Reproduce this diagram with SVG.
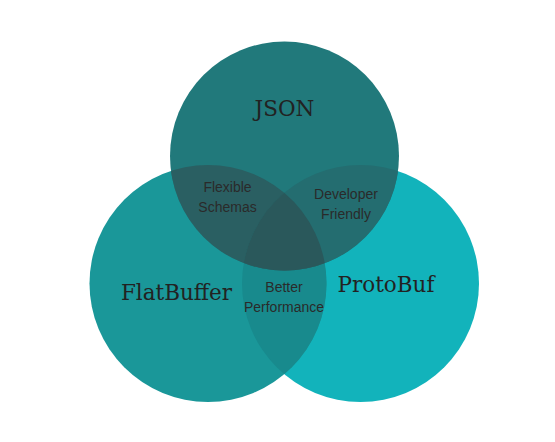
<svg xmlns="http://www.w3.org/2000/svg" width="555" height="442" viewBox="0 0 555 442">
  <style>
    .title { font-family: "DejaVu Serif", "Liberation Serif", serif; font-size: 21.5px; fill: #222222; text-anchor: middle; }
    .lbl { font-family: "Liberation Sans", Arial, sans-serif; font-size: 14px; fill: #2a2a2a; text-anchor: middle; }
  </style>
  <defs>
    <clipPath id="clipPB"><circle cx="360.5" cy="283.5" r="118.5"/></clipPath>
    <clipPath id="clipFB"><circle cx="208" cy="283.5" r="118.5"/></clipPath>
    <clipPath id="clipFBPB" clip-path="url(#clipPB)"><circle cx="208" cy="283.5" r="118.5"/></clipPath>
  </defs>
  <rect width="555" height="442" fill="#ffffff"/>
  <g id="protobuf">
    <circle cx="360.5" cy="283.5" r="118.5" fill="#12b3bb"/>
  </g>
  <g id="flatbuffer">
    <circle cx="208" cy="283.5" r="118.5" fill="#1a9799"/>
  </g>
  <g id="json">
    <circle cx="284.5" cy="156" r="114.5" fill="#21797b"/>
  </g>
  <g id="overlaps">
    <circle cx="208" cy="283.5" r="118.5" fill="#188a8d" clip-path="url(#clipPB)"/>
    <circle cx="284.5" cy="156" r="114.5" fill="#2a5f62" clip-path="url(#clipFB)"/>
    <circle cx="284.5" cy="156" r="114.5" fill="#246d70" clip-path="url(#clipPB)"/>
    <circle cx="284.5" cy="156" r="114.5" fill="#2a585b" clip-path="url(#clipFBPB)"/>
  </g>
  <g id="labels">
    <text class="title" x="284.5" y="116" font-size="23">JSON</text>
    <text class="title" x="176.5" y="300">FlatBuffer</text>
    <text class="title" x="386" y="292">ProtoBuf</text>
    <text class="lbl" x="227.5" y="192">Flexible</text>
    <text class="lbl" x="227.5" y="212">Schemas</text>
    <text class="lbl" x="346" y="199">Developer</text>
    <text class="lbl" x="346" y="219">Friendly</text>
    <text class="lbl" x="284" y="292">Better</text>
    <text class="lbl" x="284" y="312">Performance</text>
  </g>
</svg>
